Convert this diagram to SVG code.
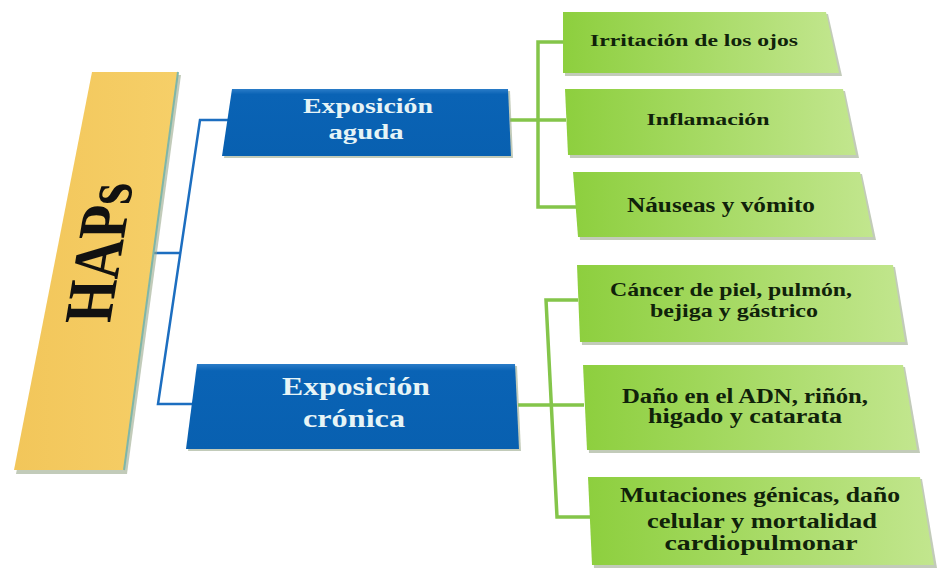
<svg xmlns="http://www.w3.org/2000/svg" width="937" height="570" viewBox="0 0 937 570">
<defs>
<linearGradient id="gGreen" x1="0" y1="0" x2="1" y2="0">
<stop offset="0" stop-color="#8dcf3e"/>
<stop offset="1" stop-color="#c2e68e"/>
</linearGradient>
<linearGradient id="gBlue" x1="0" y1="0" x2="0" y2="1">
<stop offset="0" stop-color="#2a7cc8"/>
<stop offset="0.08" stop-color="#0a63b5"/>
<stop offset="1" stop-color="#0860b0"/>
</linearGradient>
<linearGradient id="gGold" x1="0" y1="0" x2="1" y2="0">
<stop offset="0" stop-color="#f2c65a"/>
<stop offset="1" stop-color="#f6cf68"/>
</linearGradient>
</defs>
<style>
.green{fill:url(#gGreen);}
.shadow{fill:#9aa88a;opacity:0.6;}
.blue{fill:url(#gBlue);}
.gt{font-family:"Liberation Serif","Times New Roman",serif;font-weight:bold;fill:#10220a;text-anchor:middle;}
.bt{font-family:"Liberation Serif","Times New Roman",serif;font-weight:bold;fill:#e6f4f6;text-anchor:middle;}
.ht{font-family:"Liberation Serif","Times New Roman",serif;font-weight:bold;fill:#111111;text-anchor:middle;}
.cb{fill:none;stroke:#1c6ec0;stroke-width:2.5;}
.cg{fill:none;stroke:#84c54a;stroke-width:3.5;}
</style>

<g id="connectors">
<path class="cb" d="M151,253 H180 M228,120 H200 L158,404 H192"/>
<path class="cg" d="M510,120 H566 M563,42 H538 V207 H576"/>
<path class="cg" d="M518,405 H584 M578,300 H546 L557,517 H590"/>
</g>

<g id="haps">
<polygon class="shadow" points="95,75 181,75 127,474 16,474"/>
<polygon fill="url(#gGold)" points="92,72 178,72 124,470 14,470"/>
<path d="M178,72 L124,470" stroke="#7fb6a8" stroke-width="2" fill="none"/>
<text class="ht" font-size="68" textLength="140" lengthAdjust="spacingAndGlyphs" transform="matrix(0.164,-1,1,0,121.5,253)">HAPs</text>
</g>

<g id="aguda">
<polygon class="shadow" points="234,91 510,91 513,158 224,158"/>
<polygon class="blue" points="232,89 508,89 511,156 222,156"/>
<text class="bt" font-size="20" x="368" y="113" textLength="130" lengthAdjust="spacingAndGlyphs">Exposición</text>
<text class="bt" font-size="20" x="366" y="139" textLength="75" lengthAdjust="spacingAndGlyphs">aguda</text>
</g>

<g id="cronica">
<polygon class="shadow" points="199,366 517,366 521,451 188,451"/>
<polygon class="blue" points="197,364 515,364 519,449 186,449"/>
<text class="bt" font-size="25" x="356" y="395" textLength="148" lengthAdjust="spacingAndGlyphs">Exposición</text>
<text class="bt" font-size="25" x="354" y="427" textLength="102" lengthAdjust="spacingAndGlyphs">crónica</text>
</g>

<g id="irritacion">
<polygon class="shadow" points="565,14 828,14 842,76 565,76"/>
<polygon class="green" points="563,12 826,12 839,73 563,73"/>
<text class="gt" font-size="17" x="694" y="46" textLength="208" lengthAdjust="spacingAndGlyphs">Irritación de los ojos</text>
</g>

<g id="inflamacion">
<polygon class="shadow" points="567,91 845,91 859,158 570,158"/>
<polygon class="green" points="565,89 843,89 856,155 568,155"/>
<text class="gt" font-size="17" x="708" y="125" textLength="123" lengthAdjust="spacingAndGlyphs">Inflamación</text>
</g>

<g id="nauseas">
<polygon class="shadow" points="575,174 862,174 876,240 580,240"/>
<polygon class="green" points="573,172 860,172 873,237 578,237"/>
<text class="gt" font-size="20" x="721" y="212" textLength="188" lengthAdjust="spacingAndGlyphs">Náuseas y vómito</text>
</g>

<g id="cancer">
<polygon class="shadow" points="579,267 895,267 908,345 582,345"/>
<polygon class="green" points="577,265 893,265 905,342 580,342"/>
<text class="gt" font-size="19" x="731" y="296" textLength="242" lengthAdjust="spacingAndGlyphs">Cáncer de piel, pulmón,</text>
<text class="gt" font-size="19" x="734" y="317" textLength="168" lengthAdjust="spacingAndGlyphs">bejiga y gástrico</text>
</g>

<g id="dano">
<polygon class="shadow" points="585,367 905,367 920,453 589,453"/>
<polygon class="green" points="583,365 903,365 917,450 587,450"/>
<text class="gt" font-size="20" x="745" y="403" textLength="246" lengthAdjust="spacingAndGlyphs">Daño en el ADN, riñón,</text>
<text class="gt" font-size="20" x="745" y="423" textLength="194" lengthAdjust="spacingAndGlyphs">higado y catarata</text>
</g>

<g id="mutaciones">
<polygon class="shadow" points="590,479 922,479 937,568 594,568"/>
<polygon class="green" points="588,477 920,477 934,565 592,565"/>
<text class="gt" font-size="21" x="760" y="502" textLength="280" lengthAdjust="spacingAndGlyphs">Mutaciones génicas, daño</text>
<text class="gt" font-size="21" x="762" y="528" textLength="230" lengthAdjust="spacingAndGlyphs">celular y mortalidad</text>
<text class="gt" font-size="21" x="761" y="550" textLength="193" lengthAdjust="spacingAndGlyphs">cardiopulmonar</text>
</g>
</svg>
